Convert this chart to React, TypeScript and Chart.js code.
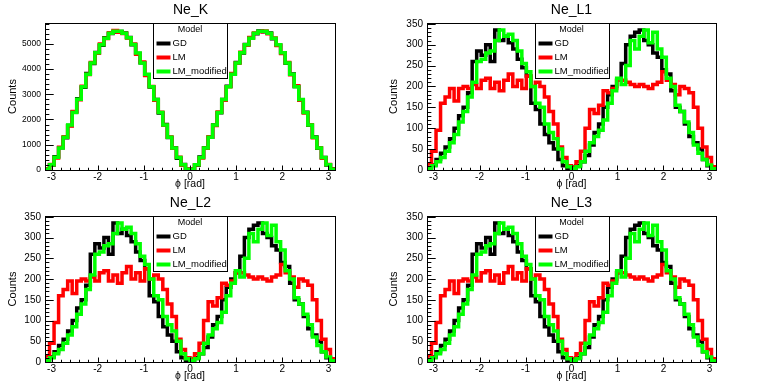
import React, { useEffect, useRef } from 'react';
import { Chart, registerables } from 'chart.js';

Chart.register(...registerables);

const FONT = 'Liberation Sans, Arial, Helvetica, sans-serif';

// Bin contents (64 bins from -pi to pi)
const kGD = [40, 200, 520, 880, 1280, 1760, 2300, 2820, 3280, 3820, 4220, 4650, 4940, 5240, 5400, 5460,
  5480, 5420, 5250, 4960, 4610, 4250, 3760, 3290, 2790, 2260, 1800, 1290, 880, 470, 220, 30,
  40, 190, 510, 880, 1300, 1780, 2270, 2790, 3320, 3790, 4260, 4630, 4970, 5230, 5390, 5500,
  5470, 5420, 5200, 4950, 4640, 4230, 3800, 3310, 2780, 2290, 1770, 1310, 860, 490, 200, 50];
const kLM = [50, 220, 480, 900, 1320, 1740, 2320, 2780, 3320, 3780, 4260, 4620, 4990, 5210, 5430, 5520,
  5450, 5400, 5230, 4990, 4580, 4280, 3740, 3310, 2760, 2290, 1770, 1310, 860, 500, 190, 40,
  30, 210, 480, 860, 1320, 1760, 2300, 2760, 3300, 3820, 4230, 4660, 4940, 5250, 5420, 5470,
  5500, 5390, 5230, 4930, 4610, 4260, 3770, 3340, 2760, 2260, 1790, 1280, 880, 470, 220, 40];
const kMod = [30, 210, 500, 870, 1300, 1780, 2280, 2800, 3300, 3790, 4240, 4640, 4960, 5220, 5410, 5490,
  5490, 5410, 5240, 4970, 4630, 4240, 3790, 3300, 2790, 2280, 1780, 1300, 870, 490, 210, 30,
  30, 210, 490, 870, 1300, 1780, 2280, 2790, 3300, 3790, 4240, 4640, 4960, 5220, 5410, 5490,
  5490, 5410, 5220, 4960, 4640, 4240, 3790, 3300, 2790, 2280, 1780, 1300, 870, 490, 210, 30];

const lGD = [5, 12, 25, 40, 55, 75, 100, 130, 150, 185, 260, 285, 275, 300, 260, 335,
  310, 320, 305, 290, 265, 245, 225, 160, 145, 110, 85, 65, 50, 25, 10, 3,
  2, 10, 20, 35, 60, 90, 110, 150, 180, 200, 215, 255, 300, 320, 330, 335,
  310, 300, 280, 270, 240, 230, 190, 150, 140, 110, 80, 65, 50, 25, 10, 3];
const lLM = [15, 45, 95, 160, 175, 195, 165, 195, 200, 195, 205, 195, 215, 220, 195, 210,
  190, 215, 230, 200, 215, 195, 225, 200, 210, 200, 175, 140, 110, 55, 30, 10,
  8, 20, 45, 100, 145, 135, 155, 190, 185, 195, 215, 215, 210, 205, 200, 205,
  200, 195, 205, 210, 235, 215, 205, 180, 200, 195, 185, 150, 100, 55, 30, 8];
const lMod = [3, 10, 20, 30, 45, 65, 85, 115, 140, 175, 210, 260, 265, 280, 285, 310,
  335, 320, 325, 310, 285, 255, 235, 200, 160, 150, 110, 90, 75, 50, 20, 8,
  3, 8, 20, 45, 65, 80, 95, 120, 160, 190, 220, 205, 250, 310, 290, 320,
  335, 305, 330, 290, 270, 220, 200, 155, 140, 115, 90, 60, 40, 25, 12, 3];

const seriesNames = ['GD', 'LM', 'LM_modified'];
const seriesColors = ['#000000', '#ff0000', '#00ff00'];
const xTickValues = [-3, -2, -1, 0, 1, 2, 3];
const kYTicks = [0, 1000, 2000, 3000, 4000, 5000];
const lYTicks = [0, 50, 100, 150, 200, 250, 300, 350];

type Panel = {
  title: string;
  data: number[][];
  yMax: number;
  yTicks: number[];
  yMinor: number;
  yFont: number;
  leftW: number;
  rightW: number;
  h: number;
};

const panels: Panel[] = [
  { title: 'Ne_K', data: [kGD, kLM, kMod], yMax: 5820, yTicks: kYTicks, yMinor: 200, yFont: 8.5, leftW: 45, rightW: 46, h: 193 },
  { title: 'Ne_L1', data: [lGD, lLM, lMod], yMax: 352, yTicks: lYTicks, yMinor: 10, yFont: 10, leftW: 46, rightW: 46, h: 193 },
  { title: 'Ne_L2', data: [lGD, lLM, lMod], yMax: 352, yTicks: lYTicks, yMinor: 10, yFont: 10, leftW: 45, rightW: 46, h: 192 },
  { title: 'Ne_L3', data: [lGD, lLM, lMod], yMax: 352, yTicks: lYTicks, yMinor: 10, yFont: 10, leftW: 46, rightW: 46, h: 192 },
];

function toPoints(values: number[]) {
  const w = (2 * Math.PI) / values.length;
  const pts: { x: number; y: number }[] = [{ x: -Math.PI, y: 0 }];
  values.forEach((v, i) => pts.push({ x: -Math.PI + i * w, y: v }));
  pts.push({ x: Math.PI, y: values[values.length - 1] });
  pts.push({ x: Math.PI, y: 0 });
  return pts;
}

const frameTicksPlugin = {
  id: 'frameTicks',
  afterDatasetsDraw(chart: any, _args: any, opts: any) {
    const { ctx, chartArea } = chart;
    const { left, right, top, bottom } = chartArea;
    const xs = chart.scales.x;
    const ys = chart.scales.y;
    const step = opts.yTicks[1] - opts.yTicks[0];
    ctx.save();
    ctx.strokeStyle = '#000';
    ctx.lineWidth = 1;
    ctx.beginPath();
    const yMajorLen = 8.7;
    for (let k = 0; k * opts.yMinor <= ys.max + 1e-9; k++) {
      const v = k * opts.yMinor;
      const isMajor = Math.abs(v / step - Math.round(v / step)) < 1e-6;
      const py = Math.round(ys.getPixelForValue(v)) + 0.5;
      ctx.moveTo(left, py);
      ctx.lineTo(left + (isMajor ? yMajorLen : yMajorLen / 2), py);
    }
    const xMajorLen = 4.5;
    for (let k = -16; k <= 16; k++) {
      const v = k * 0.2;
      if (v < xs.min || v > xs.max) continue;
      const isMajor = k % 5 === 0;
      const px = Math.round(xs.getPixelForValue(v)) + 0.5;
      ctx.moveTo(px, bottom);
      ctx.lineTo(px, bottom - (isMajor ? xMajorLen : xMajorLen / 2));
    }
    ctx.stroke();
    ctx.strokeRect(Math.round(left) + 0.5, Math.round(top) + 0.5, Math.round(right - left), Math.round(bottom - top));
    ctx.restore();
  },
};

const boxLegendPlugin = {
  id: 'boxLegend',
  afterDraw(chart: any) {
    const { ctx, chartArea } = chart;
    const cx = (chartArea.left + chartArea.right) / 2;
    const x0 = Math.round(cx - 37) + 0.5;
    const y0 = Math.round(chartArea.top) + 0.5;
    const w = 74;
    const h = 55;
    ctx.save();
    ctx.fillStyle = '#fff';
    ctx.fillRect(x0, y0, w, h);
    ctx.strokeStyle = '#000';
    ctx.lineWidth = 1;
    ctx.strokeRect(x0, y0, w, h);
    ctx.fillStyle = '#000';
    ctx.font = `9px ${FONT}`;
    ctx.textAlign = 'center';
    ctx.textBaseline = 'middle';
    ctx.fillText('Model', cx, y0 + 6.5);
    ctx.font = `9.5px ${FONT}`;
    ctx.textAlign = 'left';
    seriesNames.forEach((name, i) => {
      const yy = y0 + 20 + i * 14;
      ctx.strokeStyle = seriesColors[i];
      ctx.lineWidth = 4;
      ctx.beginPath();
      ctx.moveTo(x0 + 3, yy);
      ctx.lineTo(x0 + 17, yy);
      ctx.stroke();
      ctx.fillStyle = '#000';
      ctx.fillText(name, x0 + 19, yy);
    });
    ctx.restore();
  },
};

function HistPanel({ panel }: { panel: Panel }) {
  const ref = useRef<HTMLCanvasElement | null>(null);
  useEffect(() => {
    if (!ref.current) return;
    const datasets = panel.data.map((vals, i) => ({
      label: seriesNames[i],
      data: toPoints(vals),
      borderColor: seriesColors[i],
      backgroundColor: seriesColors[i],
      borderWidth: 3.5,
      pointRadius: 0,
      stepped: true as const,
      fill: false,
      order: 3 - i,
      borderCapStyle: 'butt' as const,
      borderJoinStyle: 'miter' as const,
    }));
    const chart = new Chart(ref.current, {
      type: 'line',
      data: { datasets },
      plugins: [frameTicksPlugin, boxLegendPlugin],
      options: {
        animation: false,
        responsive: false,
        devicePixelRatio: 1,
        layout: { padding: 0 },
        plugins: {
          legend: { display: false },
          tooltip: { enabled: false },
          title: {
            display: true,
            text: panel.title,
            color: '#000',
            font: { size: 14, family: FONT, weight: 'normal', lineHeight: 1.2 },
            padding: { top: 1.5, bottom: 4.7 },
          },
          frameTicks: { yTicks: panel.yTicks, yMinor: panel.yMinor },
        } as any,
        scales: {
          x: {
            type: 'linear',
            min: -Math.PI,
            max: Math.PI,
            grid: { display: false, drawTicks: false },
            border: { display: false },
            afterBuildTicks: (s: any) => {
              s.ticks = xTickValues.map((v) => ({ value: v }));
            },
            ticks: {
              color: '#000',
              font: { size: 10, family: FONT },
              padding: 1,
              maxRotation: 0,
              autoSkip: false,
            },
            title: {
              display: true,
              text: 'ϕ [rad]',
              color: '#000',
              font: { size: 10.5, family: FONT },
              padding: { top: 0, bottom: 2.5 },
            },
            afterFit: (s: any) => {
              s.height = 23;
            },
          },
          y: {
            type: 'linear',
            min: 0,
            max: panel.yMax,
            grid: { display: false, drawTicks: false },
            border: { display: false },
            afterBuildTicks: (s: any) => {
              s.ticks = panel.yTicks.map((v) => ({ value: v }));
            },
            ticks: {
              color: '#000',
              font: { size: panel.yFont, family: FONT },
              padding: 4,
              autoSkip: false,
              callback: (v: any) => String(v),
            },
            title: {
              display: true,
              text: 'Counts',
              color: '#000',
              font: { size: 11, family: FONT },
              padding: { top: 6, bottom: 0 },
            },
            afterFit: (s: any) => {
              s.width = panel.leftW;
            },
          },
          y2: {
            axis: 'y',
            type: 'linear',
            position: 'right',
            display: true,
            grid: { display: false, drawTicks: false },
            border: { display: false },
            ticks: { display: false },
            afterFit: (s: any) => {
              s.width = panel.rightW;
            },
          },
        } as any,
      },
    });
    return () => chart.destroy();
  }, [panel]);
  return <canvas ref={ref} width={381} height={panel.h} style={{ display: 'block', width: 381, height: panel.h }} />;
}

export default function App() {
  return (
    <div
      style={{
        position: 'absolute',
        left: 0,
        top: 0,
        width: 762,
        height: 385,
        background: '#fff',
        display: 'grid',
        gridTemplateColumns: '381px 381px',
        gridTemplateRows: '193px 192px',
      }}
    >
      {panels.map((p) => (
        <HistPanel key={p.title} panel={p} />
      ))}
    </div>
  );
}
